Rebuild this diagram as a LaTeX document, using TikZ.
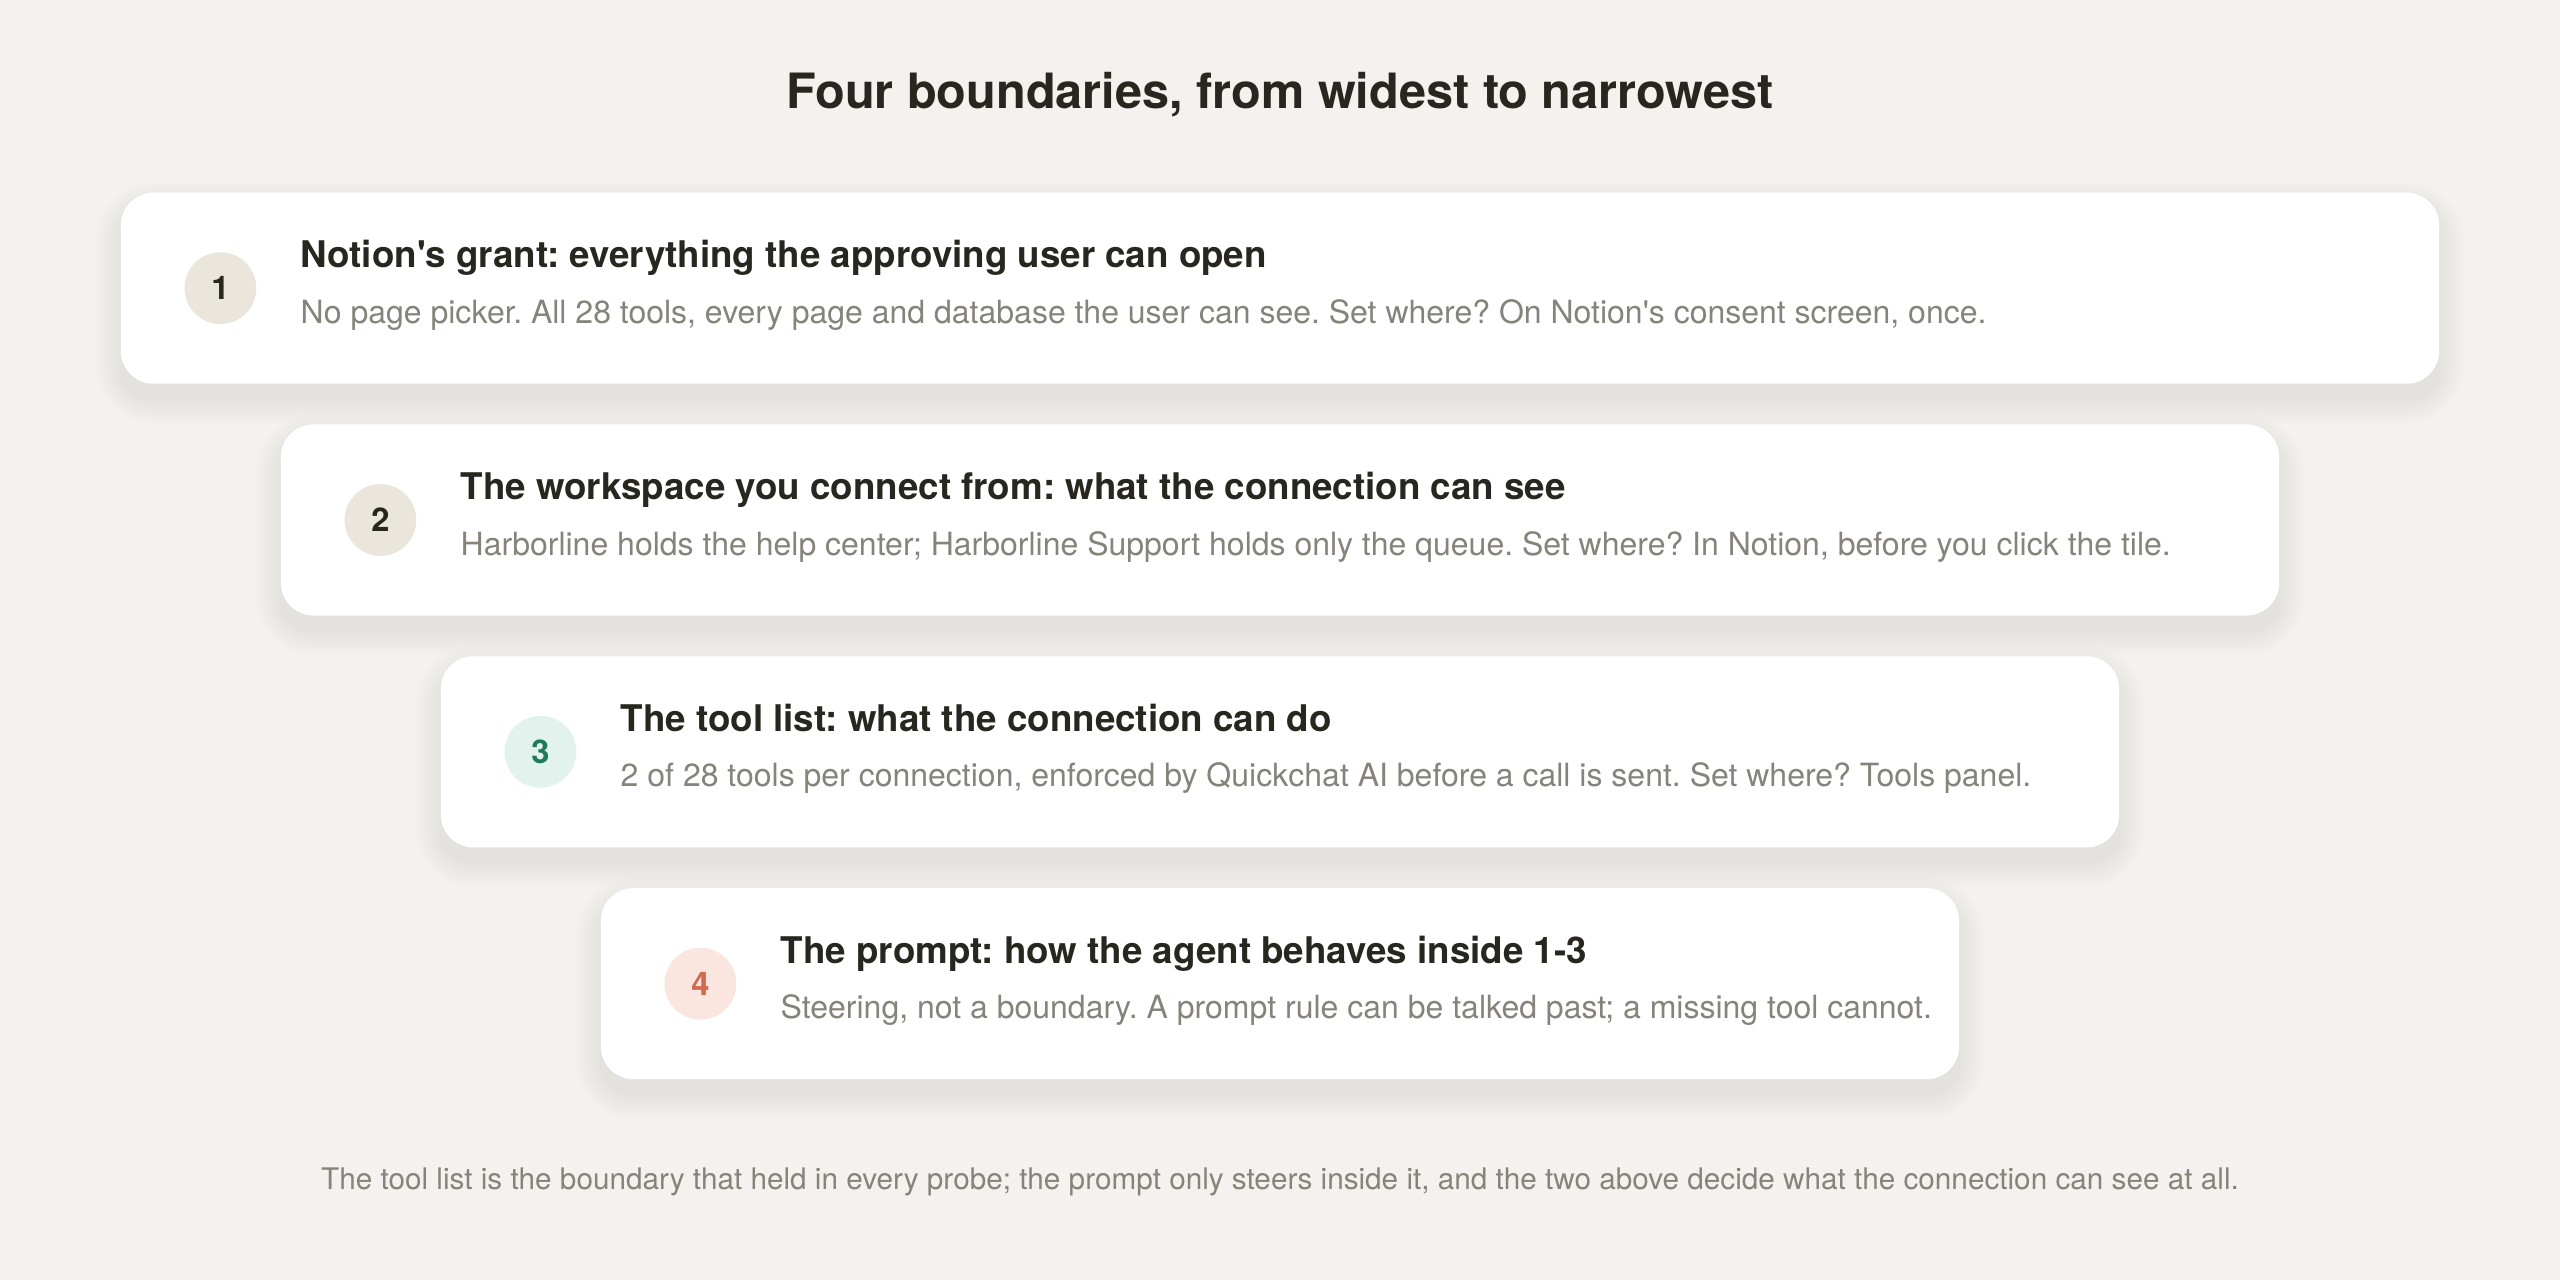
\documentclass[tikz,border=0pt]{standalone}
\usepackage{fontspec}
\setmainfont{TeX Gyre Heros}
\frenchspacing
\definecolor{bg}{HTML}{F3F2EF}
\definecolor{ink}{HTML}{28271F}
\definecolor{muted}{HTML}{86837A}
\definecolor{beige}{HTML}{EBE6DC}
\definecolor{mint}{HTML}{E2F3EE}
\definecolor{green}{HTML}{1E7A5A}
\definecolor{peach}{HTML}{FBE6DF}
\definecolor{coral}{HTML}{D0694E}
\newcommand{\mycard}[4]{%
  \foreach \i in {1,...,16} {
    \fill[black, opacity=0.0023, rounded corners={20pt+\i pt}] ({#1-\i},{#2-\i+9}) rectangle ({#3+\i},{#4+\i+9});
  }
  \fill[white, rounded corners=20pt] (#1,#2) rectangle (#3,#4);
}
\tikzset{
  badge/.style={circle, minimum size=44pt, inner sep=0pt, font=\fontsize{20}{24}\selectfont\bfseries},
  cardtitle/.style={anchor=base west, inner sep=0pt, text=ink, font=\fontsize{22.5}{26}\selectfont\bfseries},
  cardsub/.style={anchor=base west, inner sep=0pt, text=muted, font=\fontsize{19.6}{23}\selectfont},
}
\begin{document}
\begin{tikzpicture}[x=1pt,y=-1pt]
\fill[bg] (0,0) rectangle (1568,784);
\useasboundingbox (0,0) rectangle (1568,784);
\node[inner sep=0pt, text=ink, font=\fontsize{29.8}{36}\selectfont\bfseries] (title) at (784,58) {Four boundaries, from widest to narrowest};

% card 1
\mycard{74}{118}{1494}{235}
\node[badge, fill=beige, text=ink] (b1) at (135,176.5) {1};
\node[cardtitle] (t1) at (184,164) {Notion\textquotesingle s grant: everything the approving user can open};
\node[cardsub] (s1) at (184,198) {No page picker. All 28 tools, every page and database the user can see. Set where? On Notion\textquotesingle s consent screen, once.};

% card 2
\mycard{172}{260}{1396}{377}
\node[badge, fill=beige, text=ink] (b2) at (233,318.5) {2};
\node[cardtitle] (t2) at (282,306) {The workspace you connect from: what the connection can see};
\node[cardsub] (s2) at (282,340) {Harborline holds the help center; Harborline Support holds only the queue. Set where? In Notion, before you click the tile.};

% card 3
\mycard{270}{402}{1298}{519}
\node[badge, fill=mint, text=green] (b3) at (331,460.5) {3};
\node[cardtitle] (t3) at (380,448) {The tool list: what the connection can do};
\node[cardsub] (s3) at (380,482) {2 of 28 tools per connection, enforced by Quickchat AI before a call is sent. Set where? Tools panel.};

% card 4
\mycard{368}{544}{1200}{661}
\node[badge, fill=peach, text=coral] (b4) at (429,602.5) {4};
\node[cardtitle] (t4) at (478,590) {The prompt: how the agent behaves inside 1-3};
\node[cardsub] (s4) at (478,624) {Steering, not a boundary. A prompt rule can be talked past; a missing tool cannot.};

\node[inner sep=0pt, text=muted, font=\fontsize{18.2}{22}\selectfont] (foot) at (784,724) {The tool list is the boundary that held in every probe; the prompt only steers inside it, and the two above decide what the connection can see at all.};
\end{tikzpicture}
\end{document}
